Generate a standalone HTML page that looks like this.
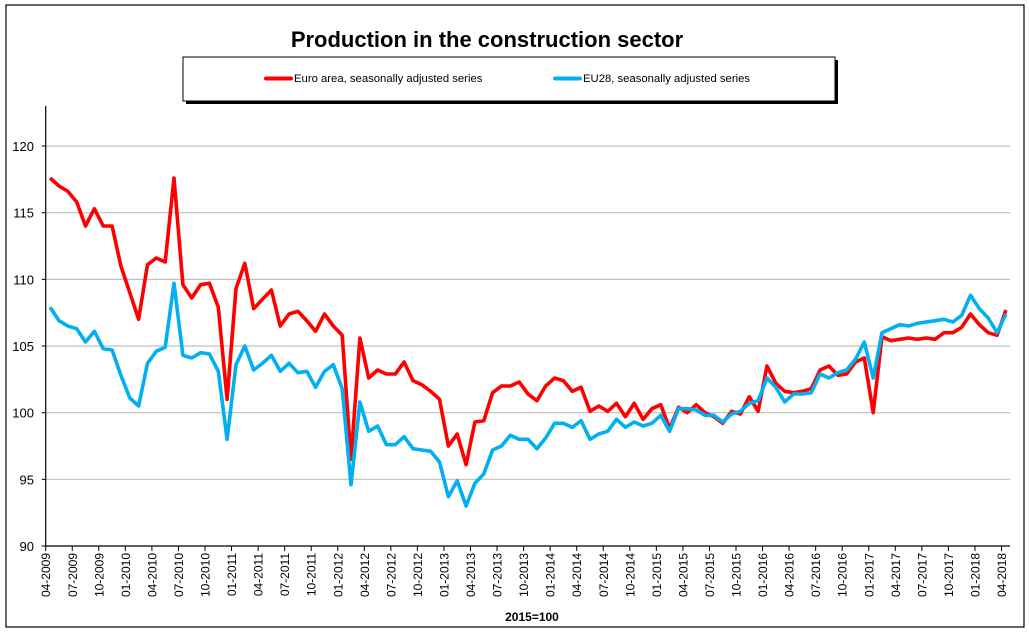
<!DOCTYPE html>
<html><head><meta charset="utf-8"><style>
body{margin:0;background:#fff;}
svg{display:block;font-family:"Liberation Sans",Arial,sans-serif;}
</style></head><body>
<svg id="s" width="1029" height="635" viewBox="0 0 1029 635" xmlns="http://www.w3.org/2000/svg">
<rect x="6" y="5" width="1018" height="622" fill="#fff" stroke="#000" stroke-width="1.2"/>
<text x="487" y="47" text-anchor="middle" font-size="22" font-weight="bold">Production in the construction sector</text>
<rect x="186" y="60" width="652" height="44" fill="#000"/>
<rect x="183" y="57" width="652" height="44" fill="#fff" stroke="#000" stroke-width="1"/>
<line x1="266" y1="78.5" x2="291" y2="78.5" stroke="#ff0000" stroke-width="4" stroke-linecap="round"/>
<text x="294" y="82" font-size="11.3">Euro area, seasonally adjusted series</text>
<line x1="555" y1="78.5" x2="580" y2="78.5" stroke="#00b0f0" stroke-width="4" stroke-linecap="round"/>
<text x="583" y="82" font-size="11.3">EU28, seasonally adjusted series</text>
<g id="grid"></g>
<g id="data"></g>
<text x="532" y="621" text-anchor="middle" font-size="12" font-weight="bold">2015=100</text>
</svg>
<script>
var NS="http://www.w3.org/2000/svg";
function el(t,a,p,txt){var e=document.createElementNS(NS,t);for(var k in a)e.setAttribute(k,a[k]);if(txt)e.textContent=txt;p.appendChild(e);return e;}
var g=document.getElementById("grid"),d=document.getElementById("data");
var x0=45.7,dx=8.85,right=1010;
function Y(v){return 546-(v-90)*13.333;}
for(var v=95;v<=120;v+=5){el("line",{x1:x0,x2:right,y1:Y(v),y2:Y(v),stroke:"#c0c0c0","stroke-width":1.2},g);}
for(var v=90;v<=120;v+=5){el("line",{x1:x0-4,x2:x0,y1:Y(v),y2:Y(v),stroke:"#000"},g);el("text",{x:34,y:Y(v)+5,"text-anchor":"end","font-size":13},g,String(v));}
el("line",{x1:x0,x2:x0,y1:106,y2:546,stroke:"#000","stroke-width":1.2},g);
el("line",{x1:x0,x2:right,y1:546,y2:546,stroke:"#000","stroke-width":1.2},g);
var mon=["01","04","07","10"];
for(var i=0;i<=108;i+=3){var x=x0+dx*i;el("line",{x1:x,x2:x,y1:546,y2:551,stroke:"#000"},g);
var m=(3+i)%12, yr=2009+Math.floor((3+i)/12);var lab=mon[m/3]+"-"+yr;
el("text",{transform:"translate("+(x+4.5)+",553) rotate(-90)","text-anchor":"end","font-size":12},g,lab);}
var red=[117.6,117.0,116.6,115.8,114.0,115.3,114.0,114.0,111.0,109.0,107.0,111.1,111.6,111.3,117.6,109.6,108.6,109.6,109.7,107.9,101.0,109.3,111.2,107.8,108.5,109.2,106.5,107.4,107.6,106.9,106.1,107.4,106.5,105.8,96.5,105.6,102.6,103.2,102.9,102.9,103.8,102.4,102.1,101.6,101.0,97.5,98.4,96.1,99.3,99.4,101.5,102.0,102.0,102.3,101.4,100.9,102.0,102.6,102.4,101.6,101.9,100.1,100.5,100.1,100.7,99.7,100.7,99.5,100.3,100.6,98.8,100.4,100.0,100.6,100.0,99.7,99.2,100.1,99.9,101.2,100.1,103.5,102.2,101.6,101.5,101.6,101.8,103.2,103.5,102.8,102.9,103.8,104.1,100.0,105.7,105.4,105.5,105.6,105.5,105.6,105.5,106.0,106.0,106.4,107.4,106.6,106.0,105.8,107.7];
var blue=[107.9,106.9,106.5,106.3,105.3,106.1,104.8,104.7,102.8,101.1,100.5,103.7,104.6,104.9,109.7,104.3,104.1,104.5,104.4,103.1,98.0,103.6,105.0,103.2,103.7,104.3,103.1,103.7,103.0,103.1,101.9,103.1,103.6,101.8,94.6,100.8,98.6,99.0,97.6,97.6,98.2,97.3,97.2,97.1,96.3,93.7,94.9,93.0,94.7,95.4,97.2,97.5,98.3,98.0,98.0,97.3,98.1,99.2,99.2,98.9,99.4,98.0,98.4,98.6,99.5,98.9,99.3,99.0,99.2,99.8,98.6,100.3,100.3,100.2,99.8,99.8,99.3,99.9,100.1,100.7,100.9,102.6,101.9,100.8,101.4,101.4,101.5,102.9,102.6,103.0,103.2,104.0,105.3,102.6,106.0,106.3,106.6,106.5,106.7,106.8,106.9,107.0,106.8,107.3,108.8,107.8,107.1,106.0,107.4];
function pts(a){return a.map(function(v,i){return (x0+dx*(i+0.5)).toFixed(1)+","+Y(v).toFixed(1);}).join(" ");}
el("polyline",{points:pts(red),fill:"none",stroke:"#ff0000","stroke-width":3.6,"stroke-linejoin":"round"},d);
el("polyline",{points:pts(blue),fill:"none",stroke:"#00b0f0","stroke-width":3.6,"stroke-linejoin":"round"},d);
</script>
</body></html>
